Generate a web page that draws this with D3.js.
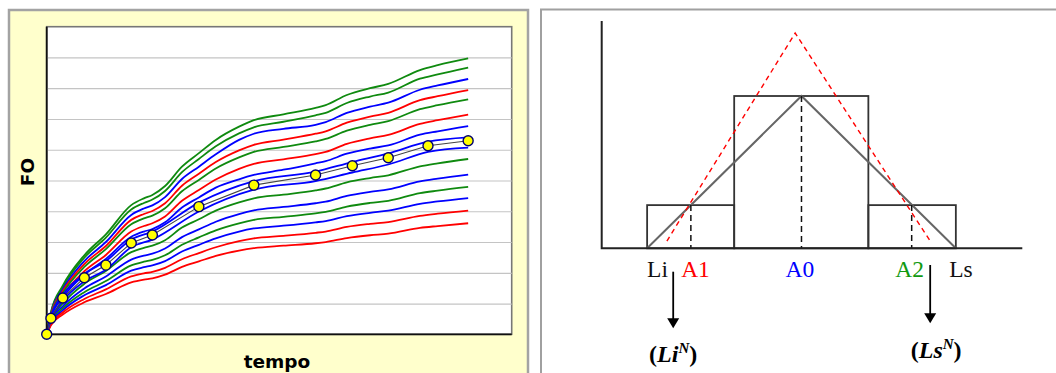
<!DOCTYPE html>
<html><head><meta charset="utf-8">
<script src="https://cdn.jsdelivr.net/npm/d3@7/dist/d3.min.js"></script>
<style>body{margin:0;background:#fff;} svg{display:block}</style>
</head><body>
<svg id="chart" width="1056" height="373"></svg>
<script>
// ---------- Left chart data ----------
const timeGrid = [0, 1, 3.8, 8.9, 14, 20, 23, 25, 28, 32, 36, 40, 45.5, 49, 56, 63.6, 66, 71, 76.5, 80.8, 88.3, 92.5, 99.7];
const curveG1 = [0, 7.2, 15.8, 25.7, 32.5, 42.0, 44.2, 45.3, 48.2, 54.5, 58.9, 63.2, 67.5, 69.6, 71.5, 73.6, 74.5, 77.8, 80.0, 81.4, 85.9, 87.5, 89.7];
const curveG2 = [0, 6.9, 15.3, 24.9, 31.4, 40.6, 42.7, 43.8, 46.6, 52.7, 57.0, 61.1, 65.3, 67.3, 69.1, 71.2, 72.0, 75.2, 77.3, 78.6, 83.1, 84.5, 86.7];
const curveB3 = [0, 6.6, 14.6, 23.8, 30.0, 38.8, 40.9, 41.9, 44.6, 50.5, 54.5, 58.5, 63.2, 65.2, 66.8, 68.1, 69.0, 72.0, 74.0, 75.3, 79.5, 80.9, 83.0];
const curveR4 = [0, 6.4, 14.0, 22.8, 28.7, 37.2, 39.1, 40.1, 42.6, 48.3, 52.2, 56.0, 59.8, 61.6, 63.3, 65.2, 66.0, 68.8, 70.8, 72.0, 76.1, 77.4, 79.4];
const curveG5 = [0, 6.1, 13.4, 21.9, 27.7, 35.8, 37.7, 38.6, 41.0, 46.5, 50.2, 53.9, 57.5, 59.3, 60.9, 62.7, 63.5, 66.2, 68.1, 69.3, 73.2, 74.5, 76.4];
const curveR6 = [0, 5.7, 12.6, 20.5, 25.8, 33.4, 35.2, 36.1, 38.3, 43.4, 46.9, 50.3, 53.8, 55.4, 56.9, 58.6, 59.3, 61.9, 63.7, 64.8, 68.4, 69.6, 71.4];
const curveB7 = [0, 5.4, 11.9, 19.4, 24.5, 31.7, 33.4, 34.2, 36.4, 41.2, 44.5, 47.7, 50.4, 51.8, 53.5, 55.6, 56.3, 58.7, 60.4, 61.4, 64.9, 66.0, 67.7];
const curveG10 = [0, 4.6, 10.0, 16.4, 20.6, 26.7, 28.1, 28.8, 30.6, 34.7, 37.4, 40.2, 42.9, 44.2, 45.4, 46.8, 47.4, 49.4, 50.8, 51.7, 54.6, 55.6, 57.0];
const curveB11 = [0, 4.2, 9.1, 14.9, 18.8, 24.3, 25.6, 26.2, 27.9, 31.6, 34.1, 36.6, 39.1, 40.3, 41.4, 42.6, 43.1, 45.0, 46.3, 47.1, 49.7, 50.6, 51.9];
const curveG12 = [0, 3.8, 8.4, 13.7, 17.3, 22.4, 23.6, 24.2, 25.7, 29.1, 31.5, 33.8, 36.1, 37.2, 38.2, 39.3, 39.8, 41.5, 42.7, 43.4, 45.9, 46.7, 47.9];
const curveB13 = [0, 3.5, 7.8, 12.7, 16.0, 20.7, 21.8, 22.4, 23.8, 26.9, 29.1, 31.2, 33.4, 34.4, 35.3, 36.4, 36.8, 38.4, 39.5, 40.2, 42.4, 43.2, 44.3];
const curveR14 = [0, 3.2, 7.1, 11.5, 14.6, 18.8, 19.8, 20.3, 21.6, 24.4, 26.4, 28.3, 30.3, 31.2, 32.0, 33.0, 33.4, 34.9, 35.9, 36.5, 38.5, 39.2, 40.2];
const curveR15 = [0, 2.9, 6.4, 10.4, 13.1, 16.9, 17.8, 18.2, 19.4, 21.9, 23.7, 25.5, 27.2, 28.0, 28.8, 29.6, 30.0, 31.3, 32.2, 32.7, 34.6, 35.2, 36.1];

const meanTimes  = [0, 1, 3.8, 8.9, 14, 20, 25, 36, 49, 63.6, 72.3, 80.8, 90.2, 99.7];
const meanValues = [0, 5.2, 11.8, 18.4, 22.5, 29.7, 32.3, 41.5, 48.5, 51.8, 54.8, 57.4, 61.3, 62.9];
const upperBand  = [0, 5.8, 12.8, 19.6, 23.8, 30.8, 33.4, 42.8, 49.8, 52.9, 56.0, 58.8, 62.6, 64.0];
const lowerBand  = [0, 4.6, 10.8, 17.2, 21.0, 28.3, 30.8, 39.9, 47.0, 49.8, 52.6, 55.2, 59.3, 60.7];

const gridValues = [10, 20, 30, 40, 50, 60, 70, 80, 90];
const xTitle = "tempo", yTitle = "FO";

// ---------- Right diagram data ----------
const binEdges = [10.8, 31.5, 63.4, 84.2];
const binHeights = [19, 67, 19];
const solidTriangle = [[10.8, 0], [47.5, 67], [84.2, 0]];
const dashedTriangle = [[15.5, 3.2], [46, 94.7], [78.2, 2.9]];
const modeMarks = [[21.2, 19], [47.5, 67], [73.7, 19]];
const tickLabels = ["Li", "A1", "A0", "A2", "Ls"];
const tickLabelPos = [10.8, 22.3, 47.1, 73.2, 85.4];
const tickLabelColors = ["#111", "#ff0000", "#0000ff", "#119911", "#111"];
const arrowPos = [17.0, 78.1];
const limitLabels = [["Li", "N"], ["Ls", "N"]];

// ---------- Drawing ----------
const svg = d3.select("#chart");
const GREEN = "#0f8a0f", BLUE = "#0000ff", RED = "#ff0000";

// left frame
svg.append("rect").attr("x", 9).attr("y", 10).attr("width", 519).attr("height", 380)
  .attr("fill", "#ffffcc").attr("stroke", "#a3a3a3").attr("stroke-width", 2.5);

const x = d3.scaleLinear().domain([0, 110]).range([46.7, 511.7]);
const y = d3.scaleLinear().domain([0, 100]).range([334.3, 26.7]);

svg.append("rect").attr("x", x(0)).attr("y", y(100)).attr("width", x(110) - x(0)).attr("height", y(0) - y(100))
  .attr("fill", "#fff").attr("stroke", "#777").attr("stroke-width", 1.6);

const grid = svg.append("g").attr("transform", `translate(${x(0)},0)`)
  .call(d3.axisLeft(y).tickValues(gridValues).tickSize(-(x(110) - x(0))).tickFormat(""));
grid.select(".domain").remove();
grid.selectAll(".tick line").attr("stroke", "#c4c4c4").attr("stroke-width", 1.2);

const series = [
  [curveG1, GREEN], [curveG2, GREEN], [curveB3, BLUE], [curveR4, RED], [curveG5, GREEN],
  [curveR6, RED], [curveB7, BLUE], [curveG10, GREEN], [curveB11, BLUE], [curveG12, GREEN],
  [curveB13, BLUE], [curveR14, RED], [curveR15, RED]
];
const line = d3.line().x(d => x(d[0])).y(d => y(d[1])).curve(d3.curveMonotoneX);
series.forEach(([vals, col]) => {
  svg.append("path").datum(timeGrid.map((t, i) => [t, vals[i]]))
    .attr("d", line).attr("fill", "none").attr("stroke", col).attr("stroke-width", 1.8);
});
[upperBand, lowerBand].forEach(vals => {
  svg.append("path").datum(meanTimes.map((t, i) => [t, vals[i]]))
    .attr("d", line).attr("fill", "none").attr("stroke", BLUE).attr("stroke-width", 1.8);
});
const meanPts = meanTimes.map((t, i) => [t, meanValues[i]]);
svg.append("path").datum(meanPts)
  .attr("d", d3.line().x(d => x(d[0])).y(d => y(d[1])))
  .attr("fill", "none").attr("stroke", "#444").attr("stroke-width", 1.1);

// axis lines (left & bottom)
svg.append("path").attr("d", `M${x(0)},${y(100)}V${y(0)}H${x(110)}`)
  .attr("fill", "none").attr("stroke", "#111").attr("stroke-width", 1.8);

svg.selectAll("circle.m").data(meanPts).enter().append("circle")
  .attr("cx", d => x(d[0])).attr("cy", d => y(d[1])).attr("r", 5)
  .attr("fill", "#ffff00").attr("stroke", "#000070").attr("stroke-width", 1.4);

svg.append("text").attr("x", 277).attr("y", 368).attr("text-anchor", "middle")
  .attr("font-family", "DejaVu Sans, Verdana, sans-serif").attr("font-weight", "bold").attr("font-size", 18.5)
  .text(xTitle);
svg.append("text").attr("transform", "translate(33.5,172) rotate(-90)").attr("text-anchor", "middle")
  .attr("font-family", "DejaVu Sans, Verdana, sans-serif").attr("font-weight", "bold").attr("font-size", 18.5)
  .text(yTitle);

// ---------- right panel ----------
svg.append("path").attr("d", "M541,373V9.5H1056").attr("fill", "none").attr("stroke", "#a0a0a0").attr("stroke-width", 2);

const xr = d3.scaleLinear().domain([0, 100]).range([601.7, 1022.3]);
const yr = d3.scaleLinear().domain([0, 100]).range([248.3, 21]);

// bins
binHeights.forEach((h, i) => {
  svg.append("rect").attr("x", xr(binEdges[i])).attr("y", yr(h))
    .attr("width", xr(binEdges[i + 1]) - xr(binEdges[i])).attr("height", yr(0) - yr(h))
    .attr("fill", "none").attr("stroke", "#333").attr("stroke-width", 1.8);
});
const lr = d3.line().x(d => xr(d[0])).y(d => yr(d[1]));
svg.append("path").datum(solidTriangle).attr("d", lr).attr("fill", "none")
  .attr("stroke", "#666").attr("stroke-width", 2);
svg.append("path").datum(dashedTriangle).attr("d", lr).attr("fill", "none")
  .attr("stroke", "#ff0000").attr("stroke-width", 1.4).attr("stroke-dasharray", "5,4");
modeMarks.forEach(([mx, my]) => {
  svg.append("line").attr("x1", xr(mx)).attr("x2", xr(mx)).attr("y1", yr(my)).attr("y2", yr(0))
    .attr("stroke", "#111").attr("stroke-width", 1.5).attr("stroke-dasharray", "6,4");
});
// axes
svg.append("path").attr("d", `M${xr(0)},${yr(100)}V${yr(0)}H${xr(100)}`)
  .attr("fill", "none").attr("stroke", "#222").attr("stroke-width", 2);

tickLabels.forEach((t, i) => {
  svg.append("text").attr("x", xr(tickLabelPos[i])).attr("y", yr(0) + 29)
    .attr("text-anchor", i === 0 ? "start" : "middle")
    .attr("font-family", "Liberation Serif, Times New Roman, serif").attr("font-size", 23.5)
    .attr("fill", tickLabelColors[i]).text(t);
});

// arrows
const arrowY = [[23.4, 80], [16.7, 75]];
arrowPos.forEach((ax, i) => {
  const px = xr(ax), y0 = yr(0) + arrowY[i][0], y1 = yr(0) + arrowY[i][1];
  svg.append("line").attr("x1", px).attr("x2", px).attr("y1", y0).attr("y2", y1 - 8)
    .attr("stroke", "#000").attr("stroke-width", 1.8);
  svg.append("path").attr("d", `M${px - 6},${y1 - 10}L${px + 6},${y1 - 10}L${px},${y1}Z`).attr("fill", "#000");
});

const labelBase = [361.5, 358];
limitLabels.forEach(([main, sup], i) => {
  const t = svg.append("text").attr("x", xr(arrowPos[i]) + (i === 0 ? 0 : 6)).attr("y", labelBase[i])
    .attr("text-anchor", "middle").attr("font-family", "Liberation Serif, Times New Roman, serif")
    .attr("font-weight", "bold").attr("font-size", 24);
  t.append("tspan").text("(");
  t.append("tspan").attr("font-style", "italic").text(main);
  t.append("tspan").attr("font-style", "italic").attr("font-size", 15).attr("dy", -9).text(sup);
  t.append("tspan").attr("dy", 9).text(")");
});
</script>
</body></html>
